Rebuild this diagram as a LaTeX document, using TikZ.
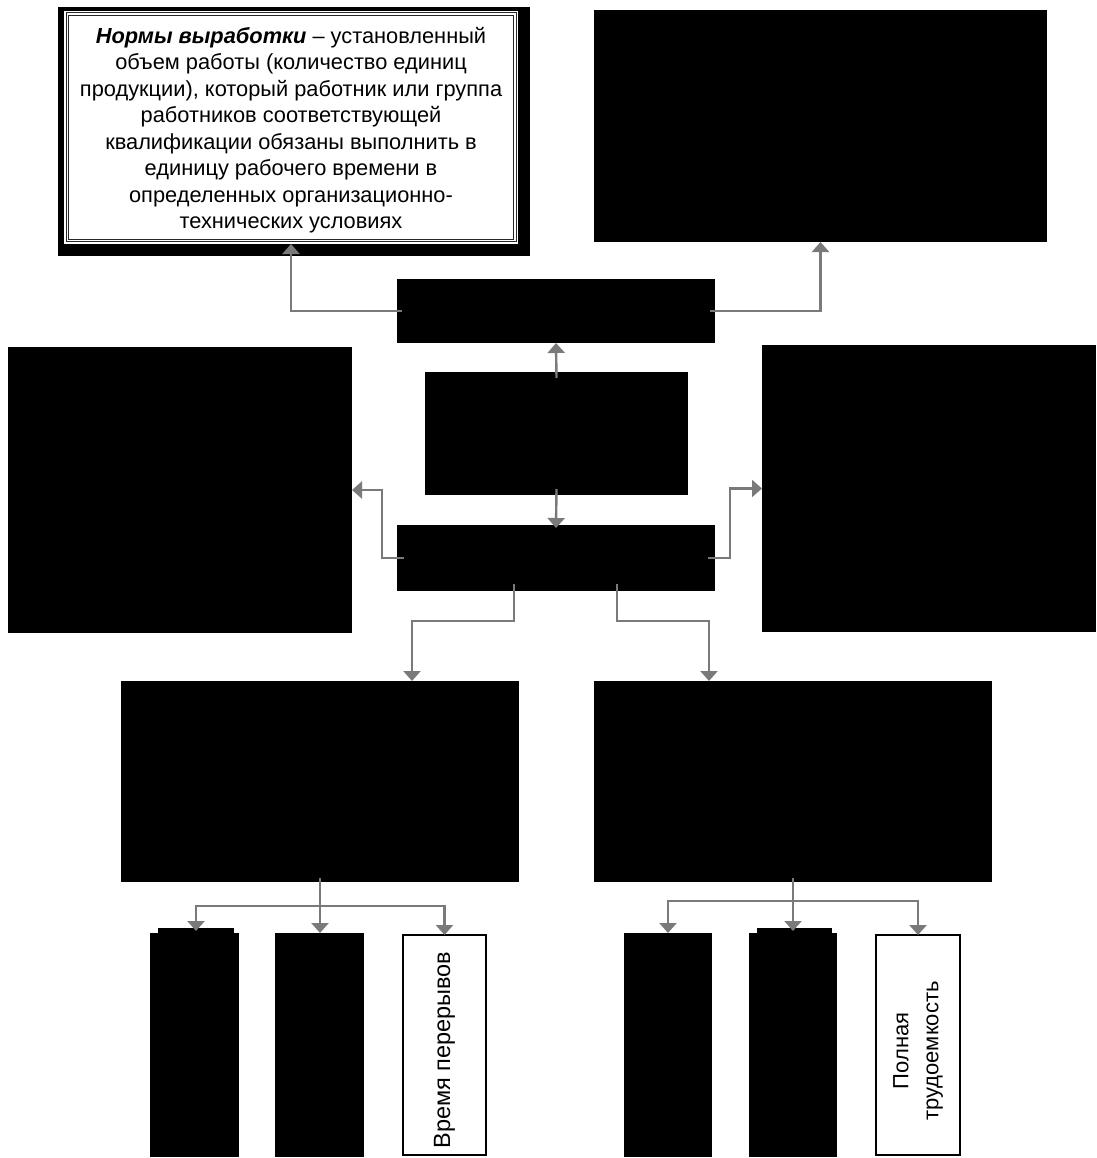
\documentclass[tikz,border=0pt]{standalone}
\usepackage{fontspec}
\setmainfont{Liberation Sans}
\usetikzlibrary{arrows.meta}
\definecolor{arrgray}{HTML}{7A7A7A}
\tikzset{
  blk/.style={fill=black, draw=none, inner sep=0pt, outer sep=0pt, anchor=north west},
  wbox/.style={fill=white, draw=black, line width=1.6pt, inner sep=0pt, outer sep=0pt, anchor=north west},
  arr/.style={draw=arrgray, line width=2.4pt, -{Triangle[width=17pt,length=10pt]}},
}
\begin{document}
\begin{tikzpicture}[x=1pt,y=-1pt]
\useasboundingbox (0,0) rectangle (1096,1158);
% top-left definition box
\node[blk, minimum width=472pt, minimum height=249pt] (tlsh) at (58,7) {};
\node[fill=white, inner sep=0pt, outer sep=0pt, anchor=north west, minimum width=454pt, minimum height=233pt] (tl) at (64,11) {};
\draw[black!85, line width=1pt, double=white, double distance=1.5pt]
  ([shift={(3.25pt,-3.25pt)}]tl.north west) rectangle ([shift={(-3.25pt,3.25pt)}]tl.south east);
\node[align=center, font=\fontsize{21.8}{26.5}\selectfont] (tltext) at (291,130)
 {\textbf{\textit{Нормы выработки}} -- установленный\\
  объем работы (количество единиц\\
  продукции), который работник или группа\\
  работников соответствующей\\
  квалификации обязаны выполнить в\\
  единицу рабочего времени в\\
  определенных организационно-\\
  технических условиях};
% top-right
\node[blk, minimum width=453pt, minimum height=232pt] (tr) at (594,10) {};
% middle row
\node[blk, minimum width=318pt, minimum height=64pt] (m1) at (397,279) {};
\node[blk, minimum width=263pt, minimum height=123pt] (ctr) at (425,372) {};
\node[blk, minimum width=318pt, minimum height=66pt] (m3) at (397,525) {};
\node[blk, minimum width=344pt, minimum height=286pt] (L) at (8,347) {};
\node[blk, minimum width=334pt, minimum height=287pt] (R) at (762,345) {};
% lower big boxes
\node[blk, minimum width=398pt, minimum height=201pt] (LL) at (121,681) {};
\node[blk, minimum width=398pt, minimum height=201pt] (LR) at (594,681) {};
% bottom boxes left group
\node[blk, minimum width=89pt, minimum height=224pt] (bA) at (150,933) {};
\node[blk, minimum width=76pt, minimum height=6pt] (bAt) at (158,928) {};
\node[blk, minimum width=89pt, minimum height=224pt] (bB) at (275,933) {};
\node[wbox, minimum width=83pt, minimum height=220pt] (bC) at (403,935) {};
\node[rotate=90, font=\fontsize{23.5}{28}\selectfont] (bCt) at ([yshift=-5pt]bC.center) {Время перерывов};
% bottom boxes right group
\node[blk, minimum width=88pt, minimum height=224pt] (bD) at (624,933) {};
\node[blk, minimum width=88pt, minimum height=224pt] (bE) at (749,933) {};
\node[blk, minimum width=75pt, minimum height=6pt] (bEt) at (757,928) {};
\node[wbox, minimum width=84pt, minimum height=220pt] (bF) at (876,935) {};
\node[rotate=90, align=center, font=\fontsize{22}{30}\selectfont] (bFt) at ([yshift=-6pt]bF.center) {Полная\\трудоемкость};
% connectors
\draw[arr] ([xshift=5pt]m1.west) -| (tl.south);
\draw[arr] ([xshift=-5pt]m1.east) -| (tr.south);
\draw[arr] ([yshift=-6pt]ctr.north) -- (m1.south);
\draw[arr] ([yshift=6pt]ctr.south) -- ([yshift=-3pt]m3.north);
\draw[arr] ([xshift=7pt]m3.west) -- ++(-22pt,0) |- (L.east);
\draw[arr] ([xshift=-7pt]m3.east) -- ++(22pt,0) |- (R.west);
\draw[arr] ([xshift=-42pt,yshift=7pt]m3.south) -- ++(0,-37pt) -| ([xshift=92pt]LL.north);
\draw[arr] ([xshift=61pt,yshift=7pt]m3.south) -- ++(0,-37pt) -| ([xshift=-84pt]LR.north);
% bottom left group
\coordinate (jl) at (320,906);
\draw[arr] ([yshift=4pt]LL.south) -- (LL.south |- bB.north);
\draw[arr] (jl) -| ([yshift=-3pt]bAt.north);
\draw[arr] (jl) -| (bC.north);
% bottom right group
\coordinate (jr) at (793,901);
\draw[arr] ([yshift=4pt]LR.south) -- ([yshift=-3pt]LR.south |- bEt.north);
\draw[arr] (jr) -| (bD.north);
\draw[arr] (jr) -| (bF.north);
\end{tikzpicture}
\end{document}
